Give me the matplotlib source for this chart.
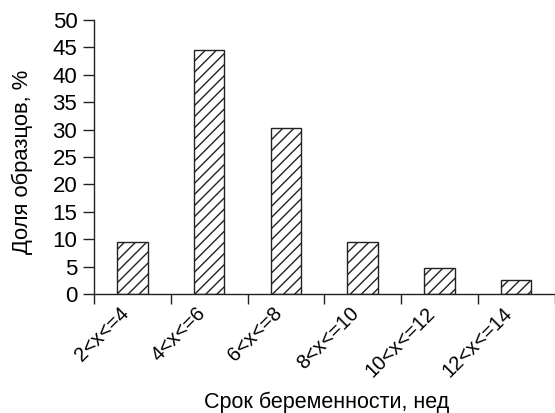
import matplotlib
matplotlib.use("Agg")
import matplotlib.pyplot as plt
import numpy as np

categories = ["2<x<=4", "4<x<=6", "6<x<=8", "8<x<=10", "10<x<=12", "12<x<=14"]
values = [9.5, 44.5, 30.3, 9.5, 4.8, 2.5]

plt.rcParams['font.family'] = ['Liberation Sans', 'DejaVu Sans']
plt.rcParams['hatch.linewidth'] = 1.0
plt.rcParams['hatch.color'] = '#222222'

fig = plt.figure(figsize=(5.55, 4.13), dpi=100)
ax = fig.add_axes([94/555, 1-294/413, (554.5-94)/555, (294-20)/413])

x = np.arange(len(categories)) + 0.5
ax.bar(x, values, width=0.4, facecolor='white', edgecolor='#222222',
       hatch='///', linewidth=1.0)

ax.set_xlim(0, 6)
ax.set_ylim(0, 50)
ax.set_yticks(np.arange(0, 51, 5))
ax.set_xticks(x)
ax.set_xticklabels(categories, rotation=45, ha='right', va='top', fontsize=14.5)
ax.set_xticks(np.arange(0, 7), minor=True)
ax.tick_params(axis='x', which='major', length=0, pad=7)
ax.tick_params(axis='x', which='minor', length=7, width=1, color='#222222', direction='out')
ax.tick_params(axis='y', length=8, width=1, color='#222222', direction='out', labelsize=16, pad=4)

for s in ['top', 'right']:
    ax.spines[s].set_visible(False)
for s in ['left', 'bottom']:
    ax.spines[s].set_color('#222222')
    ax.spines[s].set_linewidth(1.0)

ax.set_ylabel('Доля образцов, %', fontsize=15.8)
ax.yaxis.set_label_coords(-0.133, 0.484)
fig.text(327/555, 1-402/413, 'Срок беременности, нед', fontsize=15.5, ha='center', va='center')

fig.savefig('out.png', dpi=100)
